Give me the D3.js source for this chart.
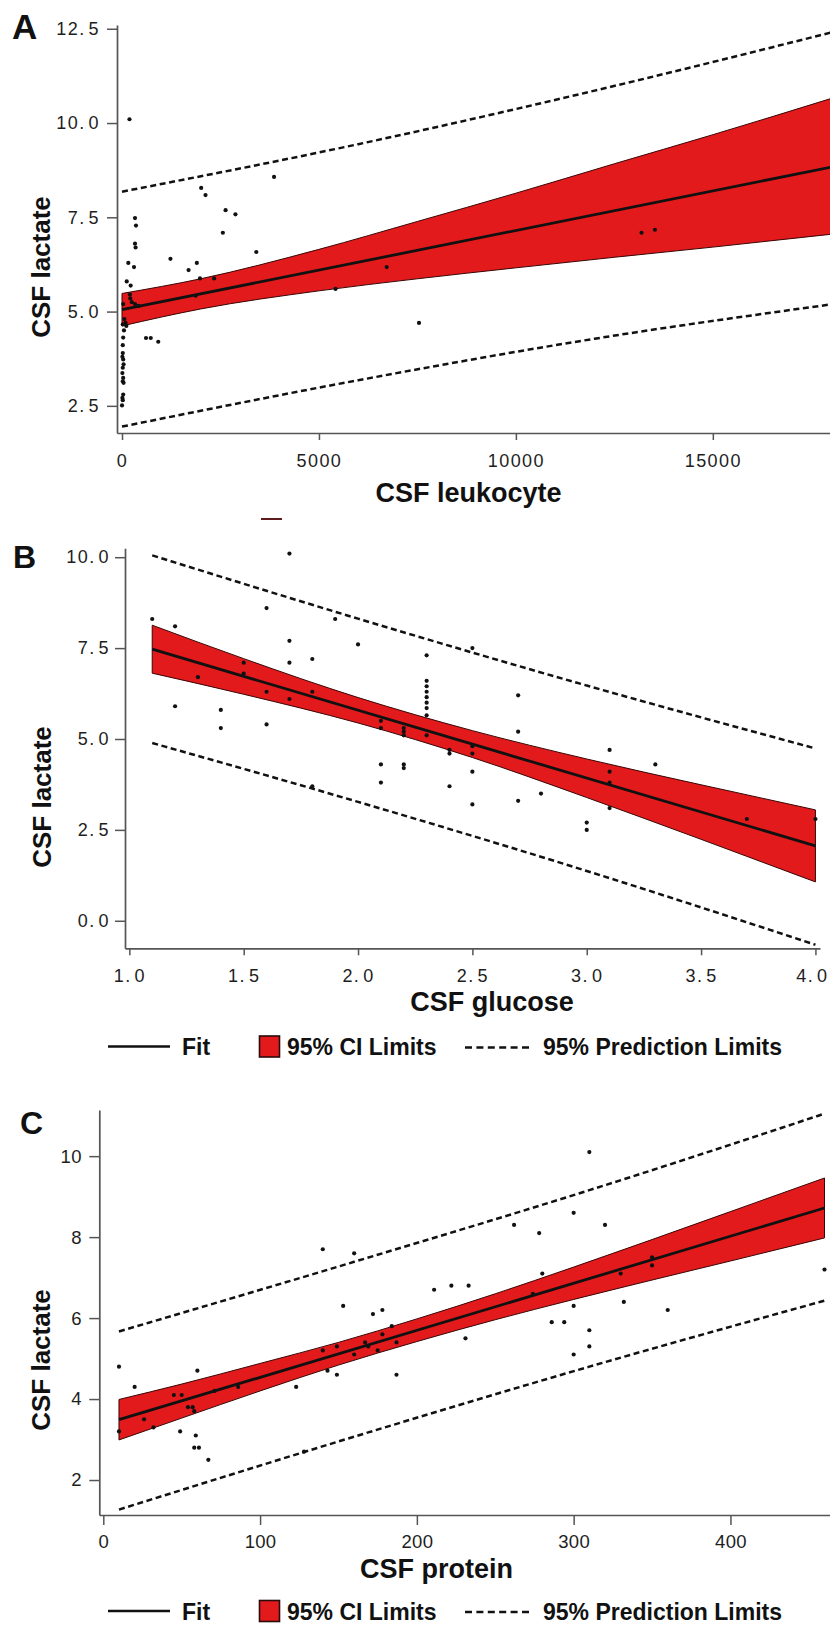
<!DOCTYPE html>
<html><head><meta charset="utf-8">
<script src="https://cdn.jsdelivr.net/npm/d3@7"></script>
<style>
body{margin:0;background:#fff;}
svg{display:block;font-family:"Liberation Sans",Arial,Helvetica,sans-serif;}
</style></head><body>
<svg id="chart" width="830" height="1627"></svg>
<script>
// ---------- Panel A: CSF leukocyte vs CSF lactate ----------
const leukocyteCount = [190,3860,2010,2120,2630,2880,2560,3410,330,355,330,345,160,305,1230,1690,1900,1980,2340,120,220,6720,5420,1870,200,210,250,330,420,30,60,90,110,610,730,920,7540,13190,13530,20,30,20,10,30,20,10,30,20,40,30,10,0,50,20,40,20];
const leukocyteLactate = [10.1,8.57,8.28,8.09,7.69,7.58,7.09,6.58,7.48,7.28,6.80,6.70,6.29,6.18,6.40,6.10,6.29,5.88,5.88,5.80,5.69,6.18,5.60,5.42,5.45,5.35,5.25,5.20,5.15,5.20,4.80,4.70,4.62,4.30,4.30,4.20,4.70,7.09,7.17,4.66,4.31,4.11,3.80,3.73,3.51,3.37,3.24,3.15,3.11,2.80,2.71,2.51,4.50,3.90,3.60,2.65];
const fitAX = [0, 18000];
const fitAY = [5.05, 8.83];
const ciAX = [0,2000,5000,7500,10000,12500,15000,18000];
const ciALow = [4.62,5.07,5.55,5.87,6.16,6.44,6.71,7.05];
const ciAHigh = [5.48,5.87,6.65,7.39,8.14,8.92,9.69,10.65];
const piAX = [0,6000,12000,18000];
const piALow = [1.95,3.18,4.28,5.19];
const piAHigh = [8.18,9.44,10.86,12.40];
const ticksAX = [0,5000,10000,15000];
const ticksAY = [2.5,5,7.5,10,12.5];

// ---------- Panel B: CSF glucose vs CSF lactate ----------
const glucose = [1.1,1.2,1.2,1.3,1.4,1.4,1.5,1.5,1.6,1.6,1.6,1.7,1.7,1.7,1.7,1.8,1.8,1.8,1.9,2.0,2.1,2.1,2.1,2.1,2.2,2.2,2.2,2.2,2.2,2.3,2.3,2.3,2.3,2.3,2.3,2.3,2.3,2.3,2.4,2.4,2.4,2.5,2.5,2.5,2.5,2.5,2.7,2.7,2.7,2.8,3.0,3.0,3.1,3.1,3.1,3.1,3.3,3.7,4.0];
const glucoseLactate = [8.3,8.1,5.9,6.7,5.8,5.3,7.1,6.8,8.6,6.3,5.4,10.1,7.7,7.1,6.1,7.2,6.3,3.7,8.3,7.6,5.5,5.3,4.3,3.8,5.3,5.2,5.1,4.3,4.2,7.3,6.6,6.45,6.3,6.15,6.0,5.85,5.65,5.1,4.7,4.6,3.7,7.5,4.8,4.6,4.1,3.2,6.2,5.2,3.3,3.5,2.7,2.5,4.7,4.1,3.8,3.1,4.3,2.8,2.8];
const fitBX = [1.1, 4.0];
const fitBY = [7.47, 2.06];
const ciBX = [1.1,1.5,2.0,2.5,3.0,3.5,4.0];
const ciBLow = [6.81,6.23,5.44,4.49,3.39,2.24,1.07];
const ciBHigh = [8.13,7.21,6.14,5.23,4.45,3.74,3.05];
const piBX = [1.1,2.0,3.0,4.0];
const piBLow = [4.89,3.27,1.37,-0.66];
const piBHigh = [10.05,8.31,6.47,4.74];
const ticksBX = [1.0,1.5,2.0,2.5,3.0,3.5,4.0];
const ticksBY = [0,2.5,5,7.5,10];

// ---------- Panel C: CSF protein vs CSF lactate ----------
const protein = [10,10,20,26,32,45,50,49,54,57,58,60,59,58,61,67,71,86,123,128,140,140,143,149,149,153,160,160,167,169,172,175,178,178,184,187,187,211,222,233,231,262,278,274,280,286,294,300,300,300,310,310,310,320,330,332,350,350,360,460];
const proteinLactate = [4.8,3.2,4.3,3.5,3.3,4.1,4.1,3.2,3.8,3.8,3.7,4.7,3.1,2.8,2.8,2.5,4.2,4.3,4.3,2.7,7.7,5.2,4.7,5.3,4.6,6.3,7.6,5.1,5.4,5.3,6.1,5.2,6.2,5.6,5.8,5.4,4.6,6.7,6.8,6.8,5.5,8.3,8.1,6.6,7.1,5.9,5.9,8.6,6.3,5.1,10.1,5.7,5.3,8.3,7.1,6.4,7.5,7.3,6.2,7.2];
const fitCX = [10, 460];
const fitCY = [3.49, 8.72];
const ciCX = [10,50,100,150,200,250,300,350,400,460];
const ciCLow = [2.99,3.53,4.20,4.84,5.42,5.96,6.46,6.94,7.41,7.98];
const ciCHigh = [3.99,4.37,4.88,5.40,5.98,6.60,7.26,7.94,8.63,9.46];
const piCX = [10,160,310,460];
const piCLow = [1.27,3.07,4.80,6.43];
const piCHigh = [5.67,7.39,9.16,11.05];
const ticksCX = [0,100,200,300,400];
const ticksCY = [2,4,6,8,10];

const legendLabels = ["Fit", "95% CI Limits", "95% Prediction Limits"];

// ---------- drawing ----------
const svg = d3.select("#chart");
const RED = "#e31a1c";
const W = 830;

function zip(a, b) { return a.map((v, i) => [v, b[i]]); }

function splitDecimal(sel, gap) {
  sel.each(function () {
    const t = d3.select(this);
    const s = t.text();
    if (s.indexOf(".") < 0) return;
    const parts = s.split(".");
    t.text(null);
    t.append("tspan").text(parts[0] + ".");
    t.append("tspan").attr("dx", gap).text(parts[1]);
  });
}

function drawPanel(p) {
  const g = svg.append("g");
  const x = d3.scaleLinear().domain(p.xDomain).range(p.xRange);
  const y = d3.scaleLinear().domain(p.yDomain).range(p.yRange);

  // CI band
  const area = d3.area().curve(d3.curveMonotoneX)
    .x(d => x(d[0])).y0(d => y(d[1])).y1(d => y(d[2]));
  g.append("path")
    .datum(p.ciX.map((v, i) => [v, p.ciLow[i], p.ciHigh[i]]))
    .attr("d", area)
    .attr("fill", RED).attr("stroke", "#3a0505").attr("stroke-width", 1);

  // fit line
  const line = d3.line().curve(d3.curveMonotoneX).x(d => x(d[0])).y(d => y(d[1]));
  g.append("path").datum(zip(p.fitX, p.fitY)).attr("d", line)
    .attr("fill", "none").attr("stroke", "#111").attr("stroke-width", 2.8);

  // prediction limits
  [p.piLow, p.piHigh].forEach(arr => {
    g.append("path").datum(zip(p.piX, arr)).attr("d", line)
      .attr("fill", "none").attr("stroke", "#111").attr("stroke-width", 2.5)
      .attr("stroke-dasharray", "6,3.6");
  });

  // points
  g.append("g").selectAll("circle").data(zip(p.px, p.py)).join("circle")
    .attr("cx", d => x(d[0])).attr("cy", d => y(d[1])).attr("r", 2.1)
    .attr("fill", "#111");

  // axes
  const yAxis = d3.axisLeft(y).tickValues(p.yTicks).tickFormat(p.yFmt)
    .tickSize(10).tickPadding(p.yPad).tickSizeOuter(0);
  const xAxis = d3.axisBottom(x).tickValues(p.xTicks).tickFormat(p.xFmt)
    .tickSize(p.xTickSize).tickPadding(p.xPad).tickSizeOuter(0);

  const ya = g.append("g").attr("transform", `translate(${p.xRange[0]},0)`).call(yAxis);
  const xa = g.append("g").attr("transform", `translate(0,${p.yRange[0]})`).call(xAxis);
  [ya, xa].forEach(a => {
    a.select(".domain").attr("stroke", "#555").attr("stroke-width", 1.7);
    a.selectAll(".tick line").attr("stroke", "#555").attr("stroke-width", 1.5);
    a.selectAll(".tick text").attr("fill", "#1e1e1e")
      .style("font-size", p.tickFont + "px")
      .style("font-family", '"Liberation Sans", Arial, sans-serif')
      .style("letter-spacing", p.letterSp + "px");
  });
  if (p.splitDec) {
    splitDecimal(ya.selectAll(".tick text"), 3);
    splitDecimal(xa.selectAll(".tick text"), 3);
  }
  // keep an x tick label that would overflow the right edge inside the page
  xa.selectAll(".tick").each(function (d) {
    const t = d3.select(this).select("text");
    const bb = this.getBBox();
    const tx = x(d);
    if (tx + bb.width / 2 > W - 1) {
      t.attr("text-anchor", "end").attr("x", W - 2 - tx);
    }
  });

  // titles
  g.append("text").attr("transform", `translate(${p.yTitle[0]},${p.yTitle[1]}) rotate(-90)`)
    .attr("text-anchor", "middle").attr("font-weight", "bold").attr("font-size", 26)
    .attr("fill", "#111").text("CSF lactate");
  g.append("text").attr("x", p.xTitle[0]).attr("y", p.xTitle[1])
    .attr("text-anchor", "middle").attr("font-weight", "bold").attr("font-size", 27)
    .attr("fill", "#111").text(p.xLabel);
  g.append("text").attr("x", p.letterPos[0]).attr("y", p.letterPos[1])
    .attr("font-weight", "bold").attr("font-size", p.letterSize).attr("fill", "#111")
    .text(p.letter);
  return { x, y };
}

function drawLegend(cy) {
  const g = svg.append("g").attr("font-weight", "bold").attr("font-size", 23).attr("fill", "#111");
  g.append("line").attr("x1", 108).attr("x2", 170).attr("y1", cy).attr("y2", cy)
    .attr("stroke", "#111").attr("stroke-width", 2.4);
  g.append("text").attr("x", 182).attr("y", cy + 8.5).text(legendLabels[0]);
  g.append("rect").attr("x", 259.5).attr("y", cy - 10.5).attr("width", 20).attr("height", 21)
    .attr("fill", RED).attr("stroke", "#2a0a0a").attr("stroke-width", 1.6);
  g.append("text").attr("x", 287).attr("y", cy + 8.5).text(legendLabels[1]);
  g.append("line").attr("x1", 465).attr("x2", 529).attr("y1", cy + 1).attr("y2", cy + 1)
    .attr("stroke", "#111").attr("stroke-width", 2.6).attr("stroke-dasharray", "7,4.4");
  g.append("text").attr("x", 543).attr("y", cy + 8.5).text(legendLabels[2]);
}

drawPanel({
  px: leukocyteCount, py: leukocyteLactate,
  fitX: fitAX, fitY: fitAY, ciX: ciAX, ciLow: ciALow, ciHigh: ciAHigh,
  piX: piAX, piLow: piALow, piHigh: piAHigh,
  xTicks: ticksAX, yTicks: ticksAY,
  xDomain: [-127, 18000], xRange: [117, 831],
  yDomain: [1.78, 12.6], yRange: [433, 25],
  xFmt: d3.format("d"), yFmt: d3.format(".1f"),
  yPad: 7, xTickSize: 7, xPad: 14, tickFont: 18, letterSp: 1.4, splitDec: true,
  yTitle: [50, 267], xTitle: [468.5, 501.5], xLabel: "CSF leukocyte",
  letter: "A", letterPos: [12, 38.5], letterSize: 35
});

drawPanel({
  px: glucose, py: glucoseLactate,
  fitX: fitBX, fitY: fitBY, ciX: ciBX, ciLow: ciBLow, ciHigh: ciBHigh,
  piX: piBX, piLow: piBLow, piHigh: piBHigh,
  xTicks: ticksBX, yTicks: ticksBY,
  xDomain: [0.981, 4.02], xRange: [125, 820],
  yDomain: [-0.757, 10.245], yRange: [948.3, 548.3],
  xFmt: d3.format(".1f"), yFmt: d3.format(".1f"),
  yPad: 5, xTickSize: 7, xPad: 14, tickFont: 18, letterSp: 1.4, splitDec: true,
  yTitle: [51, 797], xTitle: [492, 1011], xLabel: "CSF glucose",
  letter: "B", letterPos: [13, 567.5], letterSize: 32
});

drawPanel({
  px: protein, py: proteinLactate,
  fitX: fitCX, fitY: fitCY, ciX: ciCX, ciLow: ciCLow, ciHigh: ciCHigh,
  piX: piCX, piLow: piCLow, piHigh: piCHigh,
  xTicks: ticksCX, yTicks: ticksCY,
  xDomain: [-2.55, 463.5], xRange: [99.3, 830],
  yDomain: [1.136, 11.14], yRange: [1515, 1110],
  xFmt: d3.format("d"), yFmt: d3.format("d"),
  yPad: 7.5, xTickSize: 10, xPad: 10, tickFont: 18.5, letterSp: 0.3, splitDec: false,
  yTitle: [50, 1360], xTitle: [436.5, 1578], xLabel: "CSF protein",
  letter: "C", letterPos: [20, 1134], letterSize: 32
});

drawLegend(1046.5);
drawLegend(1611);

// small stray mark present between panels A and B in the original figure
svg.append("line").attr("x1", 261).attr("x2", 282).attr("y1", 519).attr("y2", 519)
  .attr("stroke", "#5e1c1c").attr("stroke-width", 2);
</script>
</body></html>
